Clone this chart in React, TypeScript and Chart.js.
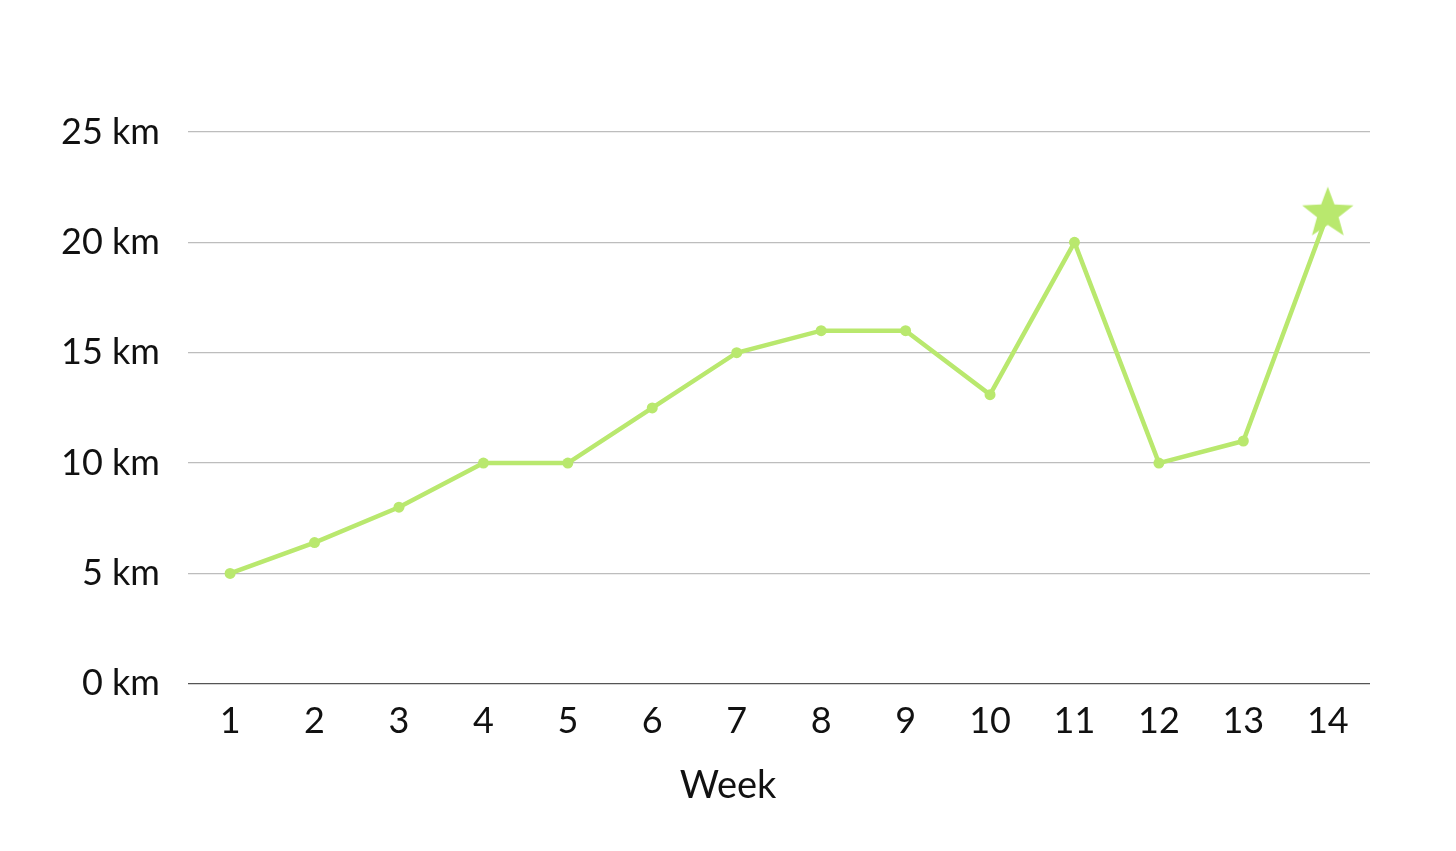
import { useEffect, useRef } from "react";
import { Chart, registerables } from "chart.js";

Chart.register(...registerables);

const weeks = ["1", "2", "3", "4", "5", "6", "7", "8", "9", "10", "11", "12", "13", "14"];
const distanceKm = [5, 6.4, 8, 10, 10, 12.5, 15, 16, 16, 13.1, 20, 10, 11, 21.3];
const yTicks = [0, 5, 10, 15, 20, 25];
const xTitle = "Week";

const LIME = "#b9e86e";
const FONT = "Lato, 'Open Sans', sans-serif";

function makeStar(outer: number, color: string) {
  const size = outer * 2 + 4;
  const c = document.createElement("canvas");
  c.width = size;
  c.height = size;
  const ctx = c.getContext("2d")!;
  const cx = size / 2;
  const cy = size / 2;
  const inner = outer * 0.42;
  ctx.beginPath();
  for (let i = 0; i < 10; i++) {
    const r = i % 2 === 0 ? outer : inner;
    const a = -Math.PI / 2 + (i * Math.PI) / 5;
    const x = cx + r * Math.cos(a);
    const y = cy + r * Math.sin(a);
    if (i === 0) ctx.moveTo(x, y);
    else ctx.lineTo(x, y);
  }
  ctx.closePath();
  ctx.fillStyle = color;
  ctx.fill();
  return c;
}

// axis title centred on the whole canvas, not on the plot area
const pageTitle = {
  id: "pageTitle",
  afterDraw(chart: Chart) {
    const { ctx, width } = chart;
    ctx.save();
    ctx.font = `38px ${FONT}`;
    ctx.fillStyle = "#111";
    ctx.textAlign = "center";
    ctx.textBaseline = "middle";
    ctx.fillText(xTitle, width / 2, 786);
    ctx.restore();
  },
};

function WeeklyChart() {
  const canvasRef = useRef<HTMLCanvasElement>(null);
  const chartRef = useRef<Chart | null>(null);

  useEffect(() => {
    if (!canvasRef.current) return;
    chartRef.current?.destroy();

    const star = makeStar(27, LIME);
    const last = distanceKm.length - 1;

    chartRef.current = new Chart(canvasRef.current, {
      type: "line",
      data: {
        labels: weeks,
        datasets: [
          {
            label: "Distance",
            data: distanceKm,
            borderColor: LIME,
            backgroundColor: LIME,
            borderWidth: 4.5,
            pointStyle: distanceKm.map((_, i) => (i === last ? star : "circle")) as any,
            pointRadius: distanceKm.map((_, i) => (i === last ? 27 : 5.5)),
            pointBorderWidth: 0,
            tension: 0,
          },
        ],
      },
      plugins: [pageTitle],
      options: {
        responsive: true,
        maintainAspectRatio: false,
        animation: false,
        layout: { padding: { top: 132, right: 86, bottom: 92, left: 33 } },
        plugins: { legend: { display: false }, tooltip: { enabled: false } },
        scales: {
          x: {
            offset: true,
            grid: { display: false, drawTicks: false },
            border: { display: false },
            ticks: { color: "#111", font: { family: FONT, size: 36 }, padding: 16 },
          },
          y: {
            min: 0,
            max: 25,
            afterBuildTicks: (axis) => {
              axis.ticks = yTicks.map((v) => ({ value: v }));
            },
            grid: {
              drawTicks: false,
              color: (ctx) => (ctx.tick && ctx.tick.value === 0 ? "#555" : "#bdbdbd"),
              lineWidth: 1.2,
            },
            border: { display: false },
            ticks: {
              color: "#111",
              font: { family: FONT, size: 36 },
              padding: 28,
              callback: (v) => `${v} km`,
            },
          },
        },
      },
    });

    return () => {
      chartRef.current?.destroy();
      chartRef.current = null;
    };
  }, []);

  return (
    <div style={{ position: "fixed", left: 0, top: 0, width: 1456, height: 851, background: "#fff" }}>
      <canvas ref={canvasRef} />
    </div>
  );
}

export default function App() {
  return <WeeklyChart />;
}
